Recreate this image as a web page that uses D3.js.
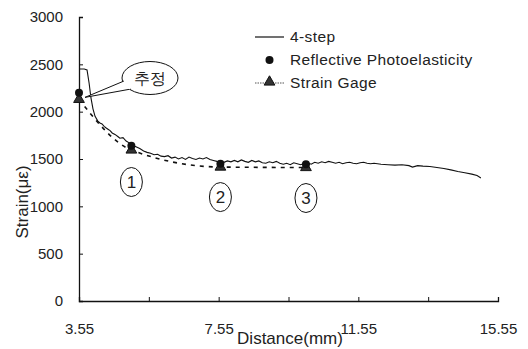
<!DOCTYPE html>
<html><head><meta charset="utf-8">
<script src="https://cdn.jsdelivr.net/npm/d3@7"></script>
<style>body{margin:0;background:#fff}svg{display:block}text{font-family:"Liberation Sans",Arial,sans-serif;fill:#222}</style>
</head><body><svg id="c" width="528" height="349"></svg>
<script>
// ---- data ----
const fourStepX = [3.55,3.70,3.78,3.84,3.89,3.95,4.01,4.09,4.15,4.21,4.27,4.32,4.38,4.44,4.50,4.58,4.67,4.72,4.81,4.90,5.01,5.15,5.29,5.40,5.50,5.60,5.70,5.80,5.90,6.00,6.10,6.20,6.30,6.40,6.50,6.60,6.70,6.80,6.90,7.00,7.10,7.20,7.30,7.40,7.50,7.60,7.70,7.80,7.90,8.00,8.10,8.20,8.30,8.40,8.50,8.60,8.70,8.80,8.90,9.00,9.10,9.20,9.30,9.40,9.50,9.60,9.70,9.80,9.90,10.00,10.10,10.20,10.30,10.40,10.50,10.60,10.70,10.80,10.90,11.00,11.10,11.20,11.30,11.40,11.50,11.60,11.70,11.80,11.90,12.00,12.20,12.40,12.60,12.80,13.00,13.10,13.25,13.40,13.60,13.80,14.00,14.20,14.40,14.60,14.80,14.95,15.06];
const fourStepY = [2450,2450,2440,2300,2150,2030,1950,1900,1880,1870,1845,1830,1815,1800,1775,1760,1735,1720,1725,1690,1665,1635,1610,1585,1570,1560,1545,1550,1530,1525,1535,1510,1520,1500,1515,1495,1520,1505,1495,1510,1500,1515,1495,1485,1475,1470,1465,1480,1470,1485,1470,1490,1475,1465,1485,1470,1480,1460,1455,1470,1460,1475,1455,1445,1455,1440,1460,1450,1440,1455,1460,1445,1465,1455,1470,1460,1475,1465,1455,1465,1450,1460,1465,1455,1450,1460,1465,1455,1450,1455,1445,1440,1435,1440,1430,1415,1430,1425,1420,1410,1400,1385,1368,1355,1340,1325,1300];
const pointX = [3.55,5.05,7.60,10.05];
const photoY = [2200,1640,1450,1445];
const gageY  = [2130,1595,1415,1410];
const xTicks = [3.55,5.55,7.55,9.55,11.55,13.55,15.55];
const xLabels = ["3.55","","7.55","","11.55","","15.55"];
const yTicks = [0,500,1000,1500,2000,2500,3000];
const seriesNames = ["4-step","Reflective Photoelasticity","Strain Gage"];
const circled = ["1","2","3"];
const circledY = [1257,1098,1088];
const calloutText = "추정";

const svg = d3.select("#c");
const x = d3.scaleLinear().domain([3.55,15.55]).range([79,498]);
const y = d3.scaleLinear().domain([0,3000]).range([301,17]);
const ink = "#111";

// axes
const gx = svg.append("g").attr("transform","translate(0,301)")
  .call(d3.axisBottom(x).tickValues(xTicks).tickSize(-4).tickFormat((d,i)=>xLabels[i]).tickPadding(22));
const gy = svg.append("g").attr("transform","translate(79,0)")
  .call(d3.axisLeft(y).tickValues(yTicks).tickSize(-4).tickFormat(d3.format("d")).tickPadding(16));
[gx,gy].forEach(g=>{
  g.select(".domain").attr("stroke",ink).attr("stroke-width",1.3);
  g.selectAll(".tick line").attr("stroke",ink);
  g.selectAll("text").attr("font-size",15).attr("fill","#333").attr("font-family","Liberation Sans, Arial, sans-serif");
});

// axis titles
svg.append("text").attr("x",290).attr("y",344).attr("text-anchor","middle").attr("font-size",17).text("Distance(mm)");
svg.append("text").attr("transform","translate(28,202) rotate(-90)").attr("text-anchor","middle").attr("font-size",17).text("Strain(με)");

// 4-step line
const fourData = fourStepX.map((d,i)=>[d,fourStepY[i]]);
svg.append("path").datum(fourData)
  .attr("d",d3.line().x(d=>x(d[0])).y(d=>y(d[1])))
  .attr("fill","none").attr("stroke",ink).attr("stroke-width",1.1);

// strain gage dashed line
const gageData = pointX.map((d,i)=>[d,gageY[i]]);
svg.append("path").datum(gageData)
  .attr("d",d3.line().x(d=>x(d[0])).y(d=>y(d[1])).curve(d3.curveMonotoneX))
  .attr("fill","none").attr("stroke",ink).attr("stroke-width",1.6).attr("stroke-dasharray","4,5");

const tri = d3.symbol().type(d3.symbolTriangle).size(50);
function triMark(g,cx,cy){
  g.append("path").attr("d",tri()).attr("transform",`translate(${cx},${cy})`).attr("fill","#333").attr("stroke",ink).attr("stroke-width",1);
}
gageData.forEach(d=>triMark(svg,x(d[0]),y(d[1])));
pointX.forEach((d,i)=>svg.append("circle").attr("cx",x(d)).attr("cy",y(photoY[i])).attr("r",4).attr("fill",ink));

// circled labels
pointX.slice(1).forEach((d,i)=>{
  const g = svg.append("g").attr("transform",`translate(${x(d)},${y(circledY[i])})`);
  g.append("ellipse").attr("rx",11).attr("ry",14.5).attr("fill","#fff").attr("stroke",ink).attr("stroke-width",1);
  g.append("text").attr("y",6).attr("text-anchor","middle").attr("font-size",17).text(circled[i]);
});

// callout
const cx0 = 150, cy0 = 78;
svg.append("ellipse").attr("cx",cx0).attr("cy",cy0).attr("rx",28).attr("ry",16.5).attr("fill","#fff").attr("stroke",ink).attr("stroke-width",1);
const tip = [x(3.55)+6, y(2130)-2];
svg.append("path").attr("d",`M${cx0-26},${cy0+3} L${tip[0]},${tip[1]} L${cx0-19},${cy0+11}`)
  .attr("fill","#fff").attr("stroke",ink).attr("stroke-width",1);
svg.append("path").attr("d",`M${cx0-26.5},${cy0+4} L${cx0-19.5},${cy0+10.5}`).attr("stroke","#fff").attr("stroke-width",2.5);
svg.append("text").attr("x",cx0).attr("y",cy0+6).attr("text-anchor","middle")
  .attr("font-family","Noto Sans CJK KR, sans-serif").attr("font-size",16).attr("font-weight",500).text(calloutText);

// legend
const lg = svg.append("g");
const lx1 = 255, lx2 = 284, tx = 290, ly = [37,60,83];
lg.append("line").attr("x1",lx1).attr("x2",lx2).attr("y1",ly[0]).attr("y2",ly[0]).attr("stroke",ink).attr("stroke-width",1.2);
lg.append("circle").attr("cx",(lx1+lx2)/2).attr("cy",ly[1]).attr("r",4).attr("fill",ink);
lg.append("line").attr("x1",lx1).attr("x2",lx2).attr("y1",ly[2]).attr("y2",ly[2]).attr("stroke","#555").attr("stroke-width",1).attr("stroke-dasharray","1.5,1");
triMark(lg,(lx1+lx2)/2,ly[2]-1);
seriesNames.forEach((s,i)=>lg.append("text").attr("x",tx).attr("y",ly[i]+5).attr("font-size",15.5).attr("letter-spacing",0.4).text(s));
</script></body></html>
